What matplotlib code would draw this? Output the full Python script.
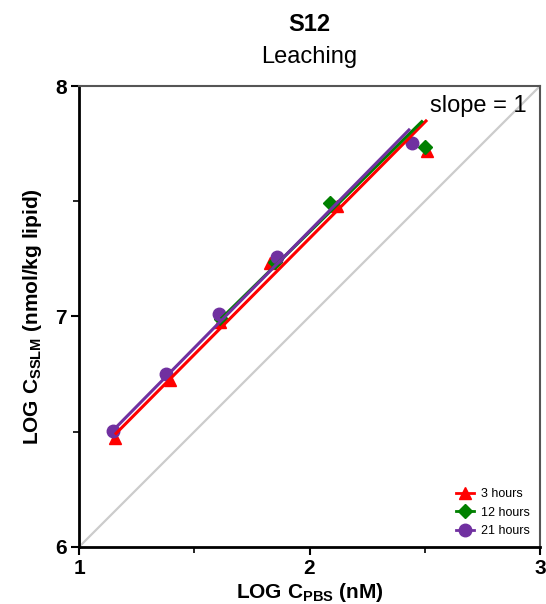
import numpy as np
import matplotlib
matplotlib.use('Agg')
import matplotlib.pyplot as plt
from matplotlib.ticker import MultipleLocator

plt.rcParams['font.family'] = 'Liberation Sans'
plt.rcParams['mathtext.fontset'] = 'custom'
plt.rcParams['mathtext.rm'] = 'Liberation Sans'
plt.rcParams['mathtext.bf'] = 'Liberation Sans:bold'

# log concentrations per sampling time
x_3h = [1.156, 1.395, 1.61, 1.829, 2.12, 2.51]
y_3h = [6.472, 6.724, 6.975, 7.232, 7.48, 7.72]
x_12h = [1.616, 1.85, 2.089, 2.50]
y_12h = [6.989, 7.236, 7.492, 7.735]
x_21h = [1.147, 1.377, 1.607, 1.859, 2.445]
y_21h = [6.503, 6.75, 7.011, 7.258, 7.753]

# regression line ends
fit_x_3h = [1.156, 2.51]
fit_y_3h = [6.488, 7.853]
fit_x_12h = [1.616, 2.492]
fit_y_12h = [6.99, 7.85]
fit_x_21h = [1.147, 2.436]
fit_y_21h = [6.505, 7.814]

labels = ['3 hours', '12 hours', '21 hours']
colors = ['#ff0000', '#008000', '#7030a0']
markers = ['^', 'D', 'o']
msizes = [9, 7, 9]

fig = plt.figure(figsize=(5.46, 6.04), dpi=100)
ax = fig.add_axes([0.1447, 0.0944, 0.8443, 0.7632])

# 1:1 reference line
ax.plot([1, 3], [6, 8], color='#cccccc', lw=1.6, zorder=1)

series = [(x_3h, y_3h, fit_x_3h, fit_y_3h),
          (x_12h, y_12h, fit_x_12h, fit_y_12h),
          (x_21h, y_21h, fit_x_21h, fit_y_21h)]
for (xs, ys, fx, fy), lab, c, m, ms in zip(series, labels, colors, markers, msizes):
    ax.plot(xs, ys, ls='none', marker=m, ms=ms, color=c, zorder=3)
    ax.plot(fx, fy, color=c, lw=2.2, zorder=4, solid_capstyle='butt')
    ax.plot([], [], marker=m, ms=ms, color=c, lw=2, label=lab)

ax.text(2.94, 7.887, 'slope = 1', ha='right', va='baseline', fontsize=17)

ax.set_xlim(1, 3)
ax.set_ylim(6, 8)
ax.xaxis.set_major_locator(MultipleLocator(1))
ax.xaxis.set_minor_locator(MultipleLocator(0.5))
ax.yaxis.set_major_locator(MultipleLocator(1))
ax.yaxis.set_minor_locator(MultipleLocator(0.5))
ax.tick_params(which='major', length=6, width=1.5, labelsize=15, pad=3)
ax.tick_params(which='minor', length=4, width=1.2)
for lbl in ax.get_xticklabels() + ax.get_yticklabels():
    lbl.set_fontweight('bold')
for side in ['left', 'bottom']:
    ax.spines[side].set_linewidth(2)
for side in ['top', 'right']:
    ax.spines[side].set_linewidth(1.5)
    ax.spines[side].set_color('#555555')

ax.set_xlabel(r'LOG C$_{\mathbf{PBS}}$ (nM)', fontsize=15, fontweight='bold', labelpad=2)
ax.set_ylabel(r'LOG C$_{\mathbf{SSLM}}$ (nmol/kg lipid)', fontsize=15, fontweight='bold', labelpad=8)

fig.text(0.566, 0.9487, 'S12', ha='center', va='baseline', fontsize=17, fontweight='bold')
fig.text(0.566, 0.8957, 'Leaching', ha='center', va='baseline', fontsize=17)

ax.legend(loc='lower right', frameon=False, fontsize=9, handlelength=1.4,
          handletextpad=0.6, labelspacing=0.5, borderaxespad=0.4)

fig.savefig('out.png', dpi=100)
